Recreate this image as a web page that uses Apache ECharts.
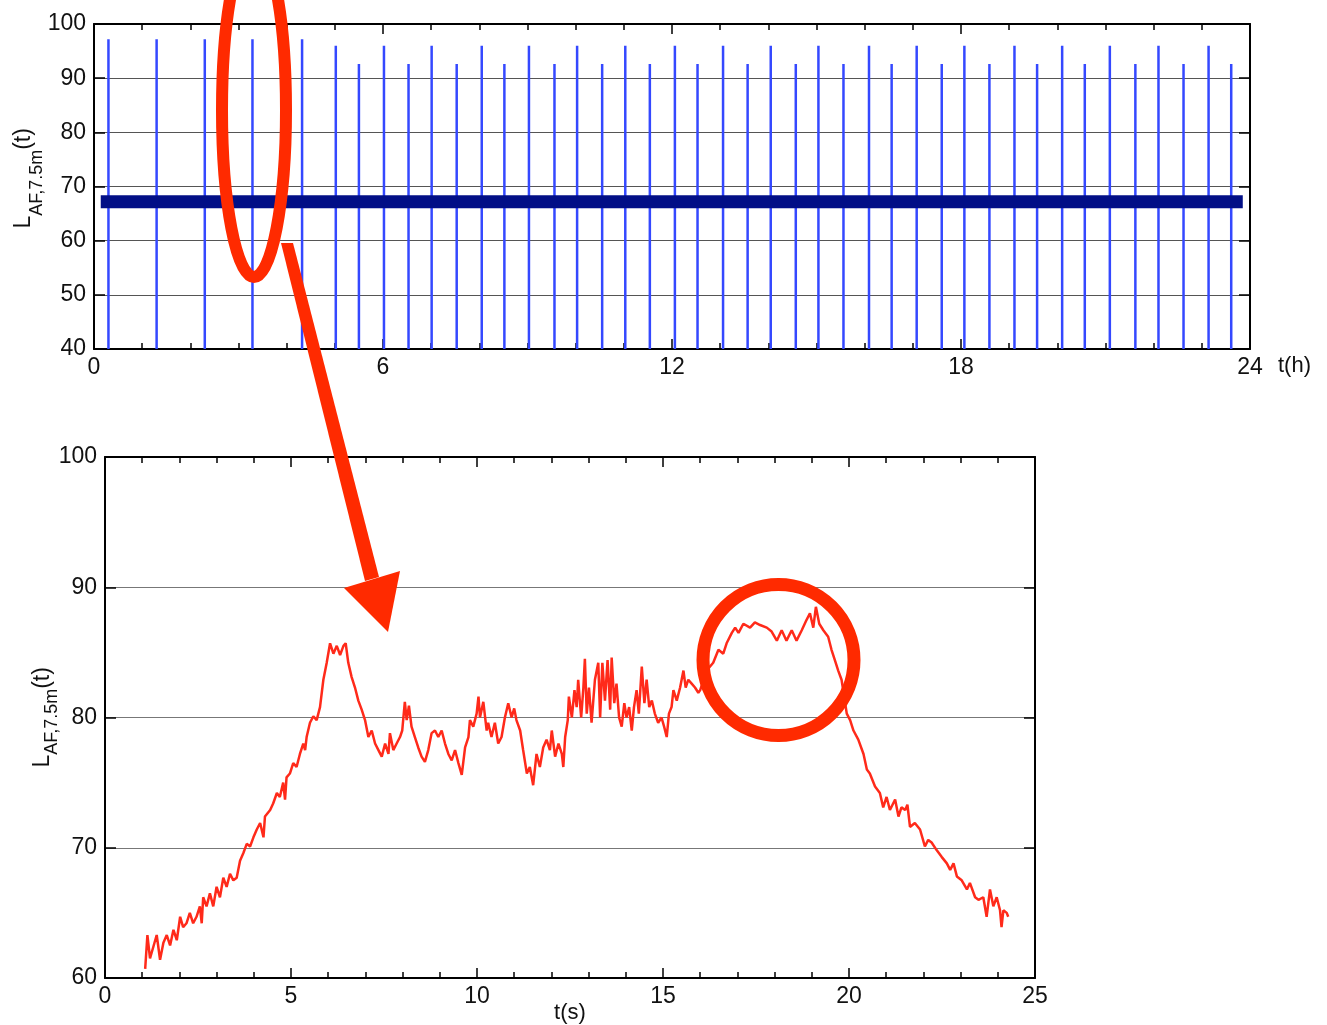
<!DOCTYPE html>
<html>
<head>
<meta charset="utf-8">
<script src="https://cdn.jsdelivr.net/npm/echarts@6/dist/echarts.min.js"></script>
<style>
html,body{margin:0;padding:0;background:#fff;}
#chart{width:1327px;height:1025px;}
</style>
</head>
<body>
<div id="chart"></div>
<script>
// ---------- DATA ----------
// Top panel: 24 h record, event peaks (hours) and their LAF levels (dB)
const spikeHours = [0.30, 1.30, 2.30, 3.29, 4.32,
  5.02, 5.50, 6.02, 6.53, 7.01, 7.53, 8.05, 8.52, 9.03, 9.56, 10.03, 10.55,
  11.03, 11.54, 12.06, 12.53, 13.06, 13.57, 14.05, 14.57, 15.04, 15.56, 16.09,
  16.56, 17.08, 17.60, 18.07, 18.59, 19.11, 19.58, 20.10, 20.57, 21.09, 21.62,
  22.10, 22.62, 23.14, 23.61];
const spikeLevels = [97.2, 97.2, 97.2, 97.2, 97.2,
  96, 92.6, 96, 92.6, 96, 92.6, 96, 92.6, 96, 92.6, 96, 92.6,
  96, 92.6, 96, 92.6, 96, 92.6, 96, 92.6, 96, 92.6, 96,
  92.6, 96, 92.6, 96, 92.6, 96, 92.6, 96, 92.6, 96, 92.6,
  96, 92.6, 96, 92.6];
const spikeBase = 40;
const meanHours = [0.14, 23.85];
const meanLevel = [67.2, 67.2];

// Bottom panel: single pass-by, time (s) and LAF level (dB)
const passT = [1.08,1.14,1.21,1.30,1.39,1.48,1.57,1.66,1.75,1.84,1.93,2.02,2.10,2.19,2.28,2.37,2.46,2.55,2.60,2.64,
  2.73,2.82,2.91,3.00,3.09,3.18,3.27,3.36,3.45,3.54,3.63,3.72,3.81,3.90,3.99,4.08,4.17,4.26,4.30,4.44,
  4.52,4.62,4.70,4.79,4.84,4.88,4.97,5.06,5.15,5.24,5.33,5.38,5.42,5.51,5.60,5.69,5.78,5.87,5.96,6.05,
  6.14,6.23,6.32,6.41,6.47,6.54,6.63,6.72,6.81,6.90,6.99,7.08,7.17,7.26,7.35,7.44,7.53,7.62,7.66,7.75,
  7.84,7.93,7.99,8.06,8.11,8.17,8.24,8.33,8.42,8.51,8.60,8.69,8.78,8.87,8.96,9.05,9.14,9.23,9.32,9.41,
  9.50,9.59,9.68,9.77,9.81,9.90,9.99,10.04,10.08,10.17,10.26,10.30,10.39,10.48,10.57,10.66,10.75,10.84,10.93,11.00,
  11.06,11.16,11.24,11.34,11.42,11.51,11.60,11.69,11.78,11.87,11.96,12.01,12.10,12.19,12.28,12.32,12.37,12.44,12.47,12.55,
  12.62,12.68,12.72,12.80,12.86,12.90,12.95,13.01,13.08,13.17,13.26,13.31,13.37,13.44,13.51,13.58,13.62,13.69,13.75,13.82,
  13.89,13.96,14.02,14.09,14.16,14.22,14.29,14.35,14.43,14.50,14.56,14.63,14.70,14.78,14.87,14.96,15.03,15.10,15.16,15.23,
  15.28,15.37,15.46,15.55,15.61,15.68,15.77,15.86,15.95,16.00,16.17,16.35,16.49,16.62,16.71,16.85,16.94,17.03,17.16,17.34,
  17.47,17.61,17.79,17.92,18.06,18.19,18.32,18.46,18.59,18.73,18.86,18.95,19.04,19.11,19.20,19.31,19.44,19.53,19.62,19.71,
  19.80,19.94,20.03,20.12,20.25,20.39,20.48,20.56,20.70,20.83,20.92,21.01,21.10,21.24,21.33,21.41,21.51,21.57,21.64,21.77,
  21.91,22.04,22.13,22.22,22.36,22.49,22.63,22.72,22.81,22.90,23.03,23.17,23.25,23.39,23.48,23.61,23.70,23.79,23.88,23.97,
  24.06,24.10,24.15,24.24,24.28];
const passL = [60.7,63.3,61.5,62.4,63.3,61.4,62.7,63.3,62.5,63.7,62.9,64.7,63.9,64.2,65.0,64.2,64.7,65.5,64.2,66.2,
  65.5,66.5,65.5,67.0,66.2,67.7,67.0,68.0,67.5,67.7,69.0,69.6,70.3,70.1,70.8,71.4,71.9,70.8,72.4,72.9,
  73.4,74.2,73.9,75.0,73.7,75.4,75.7,76.5,76.2,77.2,78.0,77.5,78.5,79.6,80.1,79.8,80.8,82.9,84.2,85.7,
  84.9,85.5,84.8,85.5,85.7,84.2,83.1,82.3,81.3,80.6,79.8,78.5,79.0,78.0,77.5,77.0,78.0,77.2,78.8,77.5,
  78.0,78.5,79.0,81.2,79.8,80.9,79.3,78.5,77.7,77.0,76.6,77.5,78.8,79.0,78.5,79.0,78.0,77.2,76.7,77.5,
  76.5,75.6,77.7,78.5,79.8,79.3,80.3,81.6,80.0,81.2,79.0,79.6,78.5,79.6,78.0,78.5,80.0,81.1,80.0,80.7,
  79.8,79.0,77.5,75.7,76.2,74.8,77.2,76.2,77.7,78.3,77.5,79.0,77.0,78.0,77.2,76.2,78.5,79.8,81.6,80.0,
  82.1,80.8,82.9,80.0,82.3,84.5,80.3,82.3,79.6,82.9,84.2,80.0,84.2,81.3,84.4,80.6,84.6,81.1,82.6,80.0,
  79.3,81.1,80.0,80.8,79.0,80.8,82.1,80.3,83.9,81.1,82.9,80.8,81.3,80.3,79.6,80.0,79.3,78.5,80.3,80.8,
  82.1,81.3,82.3,83.6,82.3,82.9,82.6,82.3,81.9,82.1,83.6,84.2,85.2,84.9,85.7,86.5,86.9,86.5,87.2,86.9,
  87.3,87.1,86.9,86.6,85.9,86.7,85.9,86.7,85.9,86.7,87.5,88.0,86.9,88.5,87.2,86.7,86.2,85.2,84.4,83.6,
  82.9,80.3,79.8,79.0,78.3,77.2,76.0,75.7,74.7,74.2,73.1,73.9,72.9,73.7,72.4,73.1,72.9,73.3,71.6,71.9,
  71.4,70.1,70.6,70.4,69.8,69.3,68.8,68.3,68.8,67.8,67.5,66.8,67.3,66.2,66.0,66.2,64.7,66.8,65.5,66.2,
  65.2,63.9,65.2,65.0,64.7];

// ---------- CHART ----------
const FONT = '"Liberation Sans", Arial, Helvetica, sans-serif';
const INK = '#111';
const chart = echarts.init(document.getElementById('chart'), null, {renderer: 'canvas'});

function xAxisDef(gridIndex, pos, min, max, interval, minorSplit, showLabels, extra) {
  return Object.assign({
    type: 'value', gridIndex: gridIndex, position: pos, min: min, max: max, interval: interval,
    nameMoveOverlap: false,
    axisLine: {show: true, onZero: false, lineStyle: {color: '#000', width: 2}},
    axisTick: {show: true, inside: true, length: 10, lineStyle: {color: '#000', width: 1.5}},
    minorTick: {show: true, splitNumber: minorSplit, length: 6, lineStyle: {color: '#000', width: 1.5}},
    axisLabel: {show: showLabels, fontSize: 23, color: INK, fontFamily: FONT, margin: 7},
    splitLine: {show: false}
  }, extra || {});
}
function yAxisDef(gridIndex, pos, min, max, showLabels, gridColor, extra) {
  return Object.assign({
    type: 'value', gridIndex: gridIndex, position: pos, min: min, max: max, interval: 10,
    nameMoveOverlap: false,
    axisLine: {show: true, onZero: false, lineStyle: {color: '#000', width: 2}},
    axisTick: {show: true, inside: true, length: 11, lineStyle: {color: '#000', width: 1.5}},
    axisLabel: {show: showLabels, fontSize: 23, color: INK, fontFamily: FONT, margin: 8},
    splitLine: {show: showLabels, lineStyle: {color: gridColor, width: 1}}
  }, extra || {});
}
function yName(spacer, pad) {
  return {
    name: '{sp| }{m|L}{s|AF,7.5m}{m|(t)}',
    nameLocation: 'middle', nameRotate: 90,
    nameTextStyle: {
      padding: pad,
      rich: {
        m: {fontSize: 23, lineHeight: 23, verticalAlign: 'top', color: INK, fontFamily: FONT},
        s: {fontSize: 18, lineHeight: 18, verticalAlign: 'bottom', color: INK, fontFamily: FONT},
        sp: {fontSize: 1, lineHeight: spacer}
      }
    }
  };
}

const RED = '#ff2a00';

const option = {
  animation: false,
  backgroundColor: '#fff',
  grid: [
    {left: 94, top: 24, width: 1156, height: 325, outerBoundsMode: 'none', containLabel: false},
    {left: 105, top: 457, width: 930, height: 521, outerBoundsMode: 'none', containLabel: false}
  ],
  xAxis: [
    xAxisDef(0, 'bottom', 0, 24, 6, 6, true, {
      name: 't(h)', nameLocation: 'end', nameGap: 28,
      nameTextStyle: {fontSize: 22, color: INK, fontFamily: FONT, verticalAlign: 'top', padding: [6, 0, 0, 0]}
    }),
    xAxisDef(0, 'top', 0, 24, 6, 6, false),
    xAxisDef(1, 'bottom', 0, 25, 5, 5, true, {
      name: 't(s)', nameLocation: 'middle', nameGap: 24,
      nameTextStyle: {fontSize: 22, color: INK, fontFamily: FONT}
    }),
    xAxisDef(1, 'top', 0, 25, 5, 5, false)
  ],
  yAxis: [
    yAxisDef(0, 'left', 40, 100, true, '#555', Object.assign(yName(34, [0, 0, 0, 16]), {nameGap: 48})),
    yAxisDef(0, 'right', 40, 100, false, '#555'),
    yAxisDef(1, 'left', 60, 100, true, '#777', Object.assign(yName(30, [0, 0, 0, 0]), {nameGap: 44})),
    yAxisDef(1, 'right', 60, 100, false, '#777')
  ],
  series: [
    {
      type: 'custom', xAxisIndex: 0, yAxisIndex: 0, z: 2, clip: true,
      data: spikeHours.map((h, i) => [h, spikeLevels[i]]),
      renderItem: function (params, api) {
        const top = api.coord([api.value(0), api.value(1)]);
        const base = api.coord([api.value(0), spikeBase]);
        return {
          type: 'line',
          shape: {x1: top[0], y1: base[1], x2: top[0], y2: top[1]},
          style: {stroke: '#3448ff', lineWidth: 2.5}
        };
      }
    },
    {
      type: 'line', xAxisIndex: 0, yAxisIndex: 0, z: 3,
      data: meanHours.map((h, i) => [h, meanLevel[i]]),
      symbol: 'none',
      lineStyle: {color: '#020f86', width: 13, cap: 'butt'}
    },
    {
      type: 'line', xAxisIndex: 2, yAxisIndex: 2, z: 3,
      data: passT.map((t, i) => [t, passL[i]]),
      symbol: 'none', showSymbol: false,
      lineStyle: {color: '#ff2a1a', width: 2.5}
    }
  ],
  graphic: [
    {
      type: 'ellipse', z: 100,
      shape: {cx: 254, cy: 110, rx: 32, ry: 167},
      style: {fill: 'none', stroke: RED, lineWidth: 12}
    },
    {
      type: 'polygon', z: 100,
      shape: {points: [[281, 243], [293, 243], [379, 577], [365, 581]]},
      style: {fill: RED}
    },
    {
      type: 'polygon', z: 100,
      shape: {points: [[344, 588], [400, 571], [388, 632]]},
      style: {fill: RED}
    },
    {
      type: 'circle', z: 100,
      shape: {cx: 778.5, cy: 660, r: 75.5},
      style: {fill: 'none', stroke: RED, lineWidth: 13}
    }
  ]
};
chart.setOption(option);
</script>
</body>
</html>
